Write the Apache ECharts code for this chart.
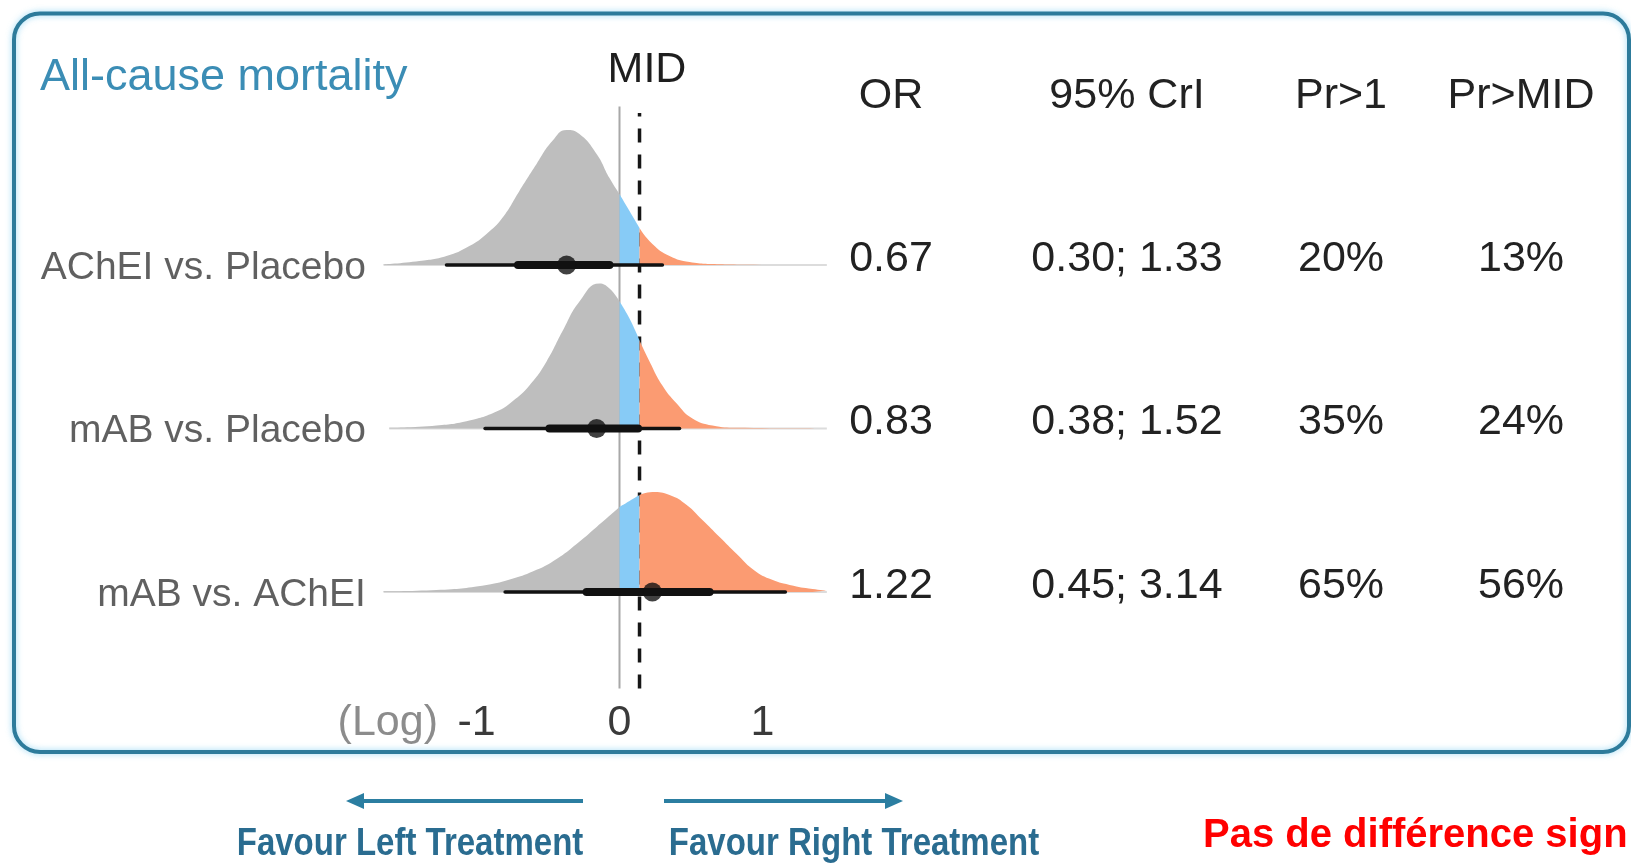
<!DOCTYPE html>
<html><head><meta charset="utf-8">
<script src="https://cdn.jsdelivr.net/npm/echarts@6/dist/echarts.min.js"></script>
<style>html,body{margin:0;padding:0;background:#fff}#c{width:1631px;height:864px}</style>
</head><body><div id="c"></div>
<script>
// ---------------- data ----------------
const chartTitle = 'All-cause mortality';
const comparisons = ['AChEI vs. Placebo', 'mAB vs. Placebo', 'mAB vs. AChEI'];
const rowBase = [2, 1, 0];
const headers = ['OR', '95% CrI', 'Pr>1', 'Pr>MID'];
const orValues = ['0.67', '0.83', '1.22'];
const crIntervals = ['0.30; 1.33', '0.38; 1.52', '0.45; 3.14'];
const probAbove1 = ['20%', '35%', '65%'];
const probAboveMID = ['13%', '24%', '56%'];
const MID = 0.14;
const xTickLabels = [-1, 0, 1];
const axisNote = '(Log)';
// point estimates and intervals (log OR)
const pointEst = [-0.37, -0.16, 0.23];
const ci95 = [[-1.21, 0.30], [-0.94, 0.42], [-0.80, 1.16]];
const ci66 = [[-0.71, -0.07], [-0.49, 0.13], [-0.23, 0.63]];
// posterior densities: [log OR, height]
const densAChEIvsPlacebo = [[-1.65,0.003],[-1.40,0.024],[-1.21,0.055],[-1.05,0.116],[-0.93,0.19],[-0.82,0.287],[-0.70,0.453],[-0.58,0.618],[-0.47,0.758],[-0.37,0.826],[-0.28,0.801],[-0.16,0.679],[-0.07,0.532],[0,0.434],[0.07,0.33],[0.14,0.226],[0.23,0.128],[0.35,0.055],[0.49,0.018],[0.70,0.004],[0.82,0.002],[1.45,0]];
const densMABvsPlacebo = [[-1.61,0.004],[-1.28,0.018],[-1.05,0.049],[-0.86,0.104],[-0.75,0.165],[-0.63,0.263],[-0.51,0.41],[-0.40,0.593],[-0.28,0.777],[-0.14,0.887],[-0.07,0.856],[0,0.777],[0.07,0.673],[0.14,0.538],[0.21,0.41],[0.30,0.263],[0.40,0.153],[0.51,0.061],[0.65,0.018],[0.82,0.004],[1.45,0]];
const densMABvsAChEI = [[-1.65,0.004],[-1.28,0.012],[-0.93,0.043],[-0.75,0.08],[-0.58,0.135],[-0.44,0.202],[-0.30,0.294],[-0.16,0.398],[0,0.52],[0.14,0.593],[0.23,0.612],[0.35,0.593],[0.47,0.532],[0.58,0.44],[0.70,0.336],[0.82,0.232],[0.93,0.141],[1.05,0.08],[1.19,0.043],[1.35,0.018],[1.45,0.009]];
const densities = [densAChEIvsPlacebo, densMABvsPlacebo, densMABvsAChEI];
const favourLeft = 'Favour Left Treatment';
const favourRight = 'Favour Right Treatment';
const note = 'Pas de différence sign';

// ---------------- styles ----------------
const FONT = '"Liberation Sans", Arial, sans-serif';
const C_GRAY = '#bebebe', C_BLUE = '#87cbf6', C_ORANGE = '#fb9b72';
const Y_MIN = -0.59, Y_MAX = 2.97;

const chart = echarts.init(document.getElementById('c'), null, {renderer: 'canvas'});
const series = [];

// reference lines (behind densities)
series.push({type: 'line', data: [[0, Y_MIN], [0, Y_MAX]], symbol: 'none', silent: true, z: 1,
  lineStyle: {color: '#a8a8a8', width: 2}});
series.push({type: 'line', data: [[MID, Y_MIN], [MID, 2.93]], symbol: 'none', silent: true, z: 1,
  lineStyle: {color: '#161616', width: 3.5, type: [14, 12]}});

densities.forEach((d, i) => {
  const b = rowBase[i];
  series.push({type: 'line', data: [[d[0][0], b], [d[d.length - 1][0], b]], symbol: 'none', silent: true, z: 2,
    lineStyle: {color: '#dcdcdc', width: 2}});
  const segs = [
    {pts: d.filter(p => p[0] <= 0), color: C_GRAY},
    {pts: d.filter(p => p[0] >= 0 && p[0] <= MID), color: C_BLUE},
    {pts: d.filter(p => p[0] >= MID), color: C_ORANGE}
  ];
  segs.forEach(s => {
    series.push({type: 'line', data: s.pts.map(p => [p[0], b + p[1]]), symbol: 'none', smooth: 0.5,
      silent: true, z: 3,
      lineStyle: {width: 0}, areaStyle: {color: s.color, opacity: 1, origin: b}});
  });
  series.push({type: 'line', data: [[ci95[i][0], b], [ci95[i][1], b]], symbol: 'none', silent: true, z: 5,
    lineStyle: {color: '#111', width: 3.5, cap: 'round'}});
  series.push({type: 'line', data: [[ci66[i][0], b], [ci66[i][1], b]], symbol: 'none', silent: true, z: 6,
    lineStyle: {color: '#111', width: 8, cap: 'round'}});
  series.push({type: 'scatter', data: [[pointEst[i], b]], symbolSize: 19, silent: true, z: 7,
    itemStyle: {color: '#111'}});
  series.push({type: 'scatter', data: [[-1.7, b]], symbolSize: 1, silent: true, z: 7,
    itemStyle: {color: 'rgba(0,0,0,0)'},
    label: {show: true, position: 'left', distance: 10, offset: [0, 3], formatter: comparisons[i],
      fontFamily: FONT, fontSize: 39, color: '#383838'}});
});

chart.setOption({
  animation: false,
  backgroundColor: '#ffffff',
  grid: {left: 376.4, top: 106.4, width: 457.6, height: 582, containLabel: false},
  xAxis: {type: 'value', min: -1.7, max: 1.5,
    axisLine: {show: false, onZero: false}, axisTick: {show: false}, splitLine: {show: false},
    axisLabel: {show: true, margin: 13, fontFamily: FONT, fontSize: 43, color: '#3a3a3a',
      showMinLabel: false, showMaxLabel: false,
      formatter: v => (xTickLabels.indexOf(v) >= 0 ? String(v) : '')}},
  yAxis: {type: 'value', min: Y_MIN, max: Y_MAX, show: false},
  series: series
});

// ---------------- texts & decorations ----------------
const rowY = rowBase.map(b => chart.convertToPixel({gridIndex: 0}, [0, b])[1] - 6);
const headerY = rowY[0] - 163;
const colX = [891, 1127, 1341, 1521];
const cols = [orValues, crIntervals, probAbove1, probAboveMID];
const g = [];
g.push({type: 'rect', shape: {x: 14, y: 13.5, width: 1615, height: 738.5, r: 26},
  style: {fill: 'none', stroke: '#2d7b9b', lineWidth: 4, shadowBlur: 6, shadowColor: 'rgba(110,200,240,0.7)'}, z: 0});
g.push({type: 'text', x: 40, y: 78, style: {text: chartTitle, font: '45px ' + FONT, fill: '#3b8db5',
  textAlign: 'left', textVerticalAlign: 'middle'}});
g.push({type: 'text', x: 647, y: 70, style: {text: 'MID', font: '43px ' + FONT, fill: '#1e1e1e',
  textAlign: 'center', textVerticalAlign: 'middle'}});
const xAxisY = chart.convertToPixel({gridIndex: 0}, [0, Y_MIN])[1];
g.push({type: 'text', x: 438, y: xAxisY + 35, style: {text: axisNote, font: '43px ' + FONT, fill: '#8c8c8c',
  textAlign: 'right', textVerticalAlign: 'middle'}});
headers.forEach((h, j) => {
  g.push({type: 'text', x: colX[j], y: headerY, style: {text: h, font: '43px ' + FONT, fill: '#222',
    textAlign: 'center', textVerticalAlign: 'middle'}});
  cols[j].forEach((v, i) => {
    g.push({type: 'text', x: colX[j], y: rowY[i], style: {text: v, font: '43px ' + FONT, fill: '#222',
      textAlign: 'center', textVerticalAlign: 'middle'}});
  });
});
const AY = 801, AC = '#2b7ea1';
g.push({type: 'line', shape: {x1: 583, y1: AY, x2: 356, y2: AY}, style: {stroke: AC, lineWidth: 4}});
g.push({type: 'polygon', shape: {points: [[346, AY], [364, AY - 8], [364, AY + 8]]}, style: {fill: AC}});
g.push({type: 'line', shape: {x1: 664, y1: AY, x2: 893, y2: AY}, style: {stroke: AC, lineWidth: 4}});
g.push({type: 'polygon', shape: {points: [[903, AY], [885, AY - 8], [885, AY + 8]]}, style: {fill: AC}});
g.push({type: 'text', x: 410, y: 844, scaleY: 1.2, style: {text: favourLeft, font: 'bold 33px ' + FONT,
  fill: '#2a6c90', textAlign: 'center', textVerticalAlign: 'middle'}});
g.push({type: 'text', x: 854, y: 844, scaleY: 1.2, style: {text: favourRight, font: 'bold 33px ' + FONT,
  fill: '#2a6c90', textAlign: 'center', textVerticalAlign: 'middle'}});
g.push({type: 'text', x: 1203, y: 836, style: {text: note, font: 'bold 40px ' + FONT, fill: '#ff0000',
  textAlign: 'left', textVerticalAlign: 'middle'}});
chart.setOption({graphic: g});
</script>
</body></html>
